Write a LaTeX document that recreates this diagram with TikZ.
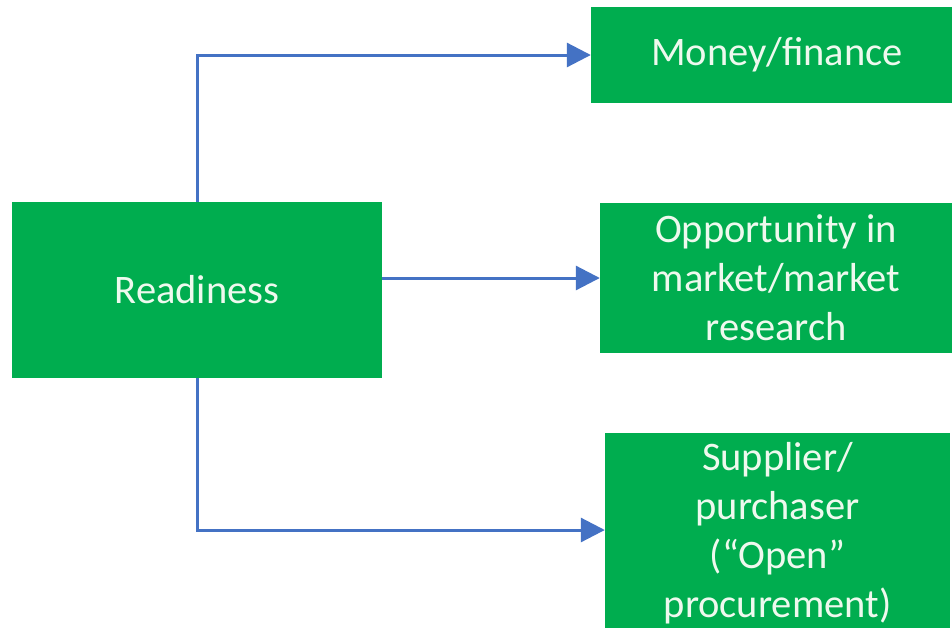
\documentclass[tikz,border=0pt]{standalone}
\usepackage{fontspec}
\setmainfont{Carlito}
\usetikzlibrary{arrows.meta}
\definecolor{boxgreen}{HTML}{00AD4F}
\definecolor{boxtext}{HTML}{EEF9EE}
\definecolor{linkblue}{HTML}{4472C4}
\tikzset{
  greenbox/.style={fill=boxgreen, draw=none, text=boxtext, align=center,
    inner sep=0pt, font=\fontsize{40.5}{49}\selectfont},
  link/.style={draw=linkblue, line width=3pt,
    -{Triangle[length=24pt,width=24pt]}}
}
\begin{document}
\begin{tikzpicture}[x=1pt,y=-1pt]
  \useasboundingbox (0,0) rectangle (952,627);
  \clip (0,0) rectangle (952,627);
  \fill[white] (0,0) rectangle (952,627);

  % boxes
  \node[greenbox, minimum width=370pt, minimum height=176pt] (ready) at (197,290) {Readiness};
  \node[greenbox, minimum width=372pt, minimum height=96pt] (money) at (777,55) {Money/finance};
  \node[greenbox, minimum width=352pt, minimum height=150pt] (opp) at (776,278) {Opportunity in\\market/market\\research};
  \node[greenbox, minimum width=345pt, minimum height=200pt] (supp) at (777.5,533) {Supplier/\\purchaser\\(“Open”\\procurement)};

  % connectors
  \coordinate (topbend) at (ready.north |- money.west);
  \coordinate (midstart) at (ready.east |- opp.west);
  \coordinate (botbend) at (ready.south |- 0,530);
  \draw[link] (ready.north) -- (topbend) -- (money.west);
  \draw[link] (midstart) -- (opp.west);
  \draw[link] (ready.south) -- (botbend) -- (botbend -| supp.west);
\end{tikzpicture}
\end{document}
